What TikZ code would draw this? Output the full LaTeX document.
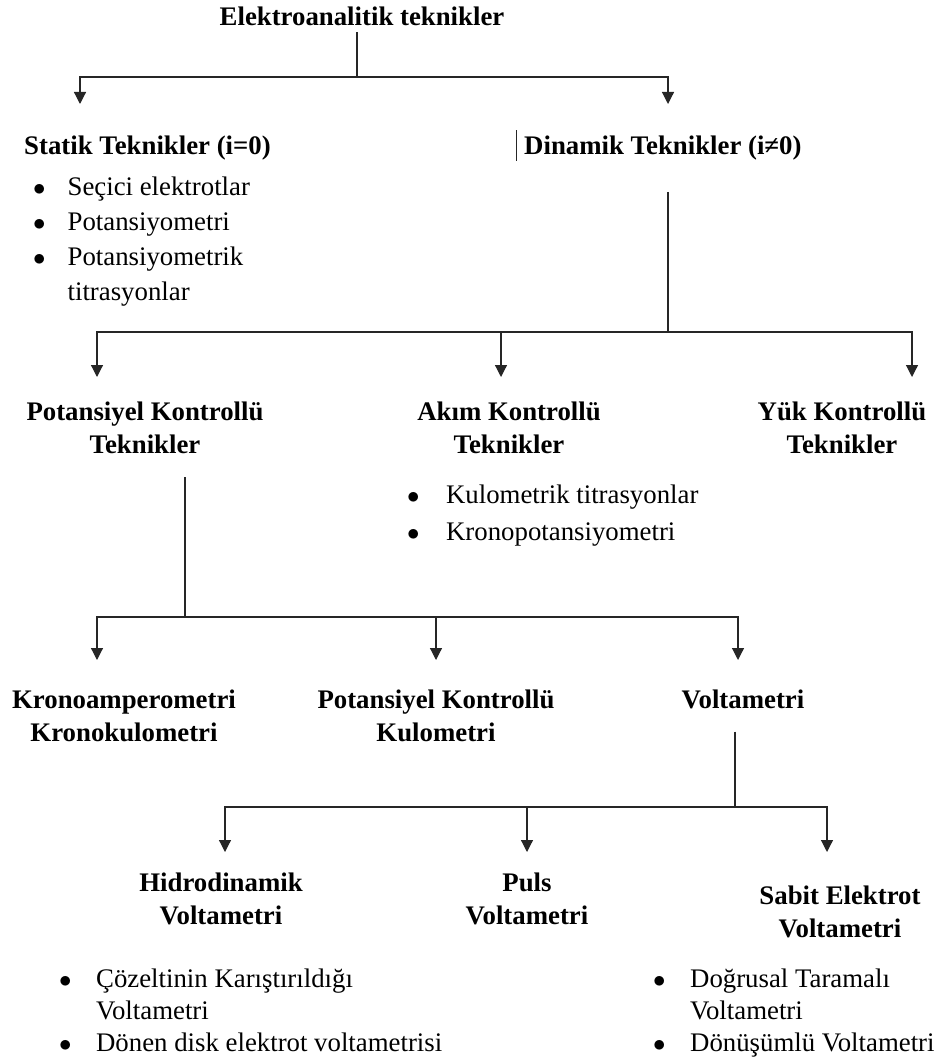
\documentclass[tikz,border=0pt]{standalone}
\usepackage{fontspec}
\setmainfont{Liberation Serif}
\usetikzlibrary{arrows.meta, positioning, calc}

\begin{document}
\begin{tikzpicture}[
  x=1pt, y=-1pt,
  head/.style={font=\fontsize{26.8}{33}\selectfont\bfseries, align=center,
               inner sep=0pt, anchor=base},
  blist/.style={font=\fontsize{26.8}{35}\selectfont, inner sep=0pt, anchor=base west},
  line/.style={line width=1.2pt, black!85},
  arr/.style={line, -{Triangle[width=12pt, length=12pt]}},
]
\useasboundingbox (0,0) rectangle (944,1059);

% Top level
\node[head] (title) at (362,26) {Elektroanalitik teknikler};
\node[head, anchor=base west] (statik) at (24,155) {Statik Teknikler (i=0)};
\node[head, anchor=base west] (dinamik) at (524,155) {Dinamik Teknikler (i≠0)};
\draw[line, line width=0.8pt] ([xshift=-8pt, yshift=6pt]dinamik.north west) -- ([xshift=-8pt]dinamik.south west);

\node[blist] (statiklist) at (33,196) {\begin{tabular}[t]{@{}l@{\hspace{22pt}}l@{}}
  $\bullet$ & Seçici elektrotlar\\
  $\bullet$ & Potansiyometri\\
  $\bullet$ & Potansiyometrik\\
            & titrasyonlar
\end{tabular}};

\coordinate (j0) at (357,77);
\coordinate (a0l) at (80,104);
\coordinate (a0r) at (668,104);
\draw[line] ([yshift=-6pt]title.south -| j0) -- (j0);
\draw[arr] (j0) -| (a0l);
\draw[arr] (j0) -| (a0r);

% Dinamik branch (base anchor = last line)
\node[head] (pot) at (145,453) {Potansiyel Kontrollü\\Teknikler};
\node[head] (akim) at (509,453) {Akım Kontrollü\\Teknikler};
\node[head] (yuk) at (842,453) {Yük Kontrollü\\Teknikler};

\node[blist, font=\fontsize{26.8}{37}\selectfont] (akimlist) at (407,503) {\begin{tabular}[t]{@{}l@{\hspace{26.5pt}}l@{}}
  $\bullet$ & Kulometrik titrasyonlar\\
  $\bullet$ & Kronopotansiyometri
\end{tabular}};

\coordinate (j1) at (668,332);
\coordinate (a1a) at (97,377);
\coordinate (a1b) at (501,377);
\coordinate (a1c) at (912,377);
\draw[line] ([yshift=-31pt]dinamik.south -| j1) -- (j1);
\draw[arr] (j1) -| (a1a);
\draw[arr] (j1) -| (a1b);
\draw[arr] (j1) -| (a1c);

% Potansiyel kontrollu branch
\node[head] (krono) at (124,741) {Kronoamperometri\\Kronokulometri};
\node[head] (pkk) at (436,741) {Potansiyel Kontrollü\\Kulometri};
\node[head] (volt) at (743,708) {Voltametri};

\coordinate (j2) at (185,617);
\coordinate (a2a) at (97,660);
\coordinate (a2b) at (436,660);
\coordinate (a2c) at (738,660);
\draw[line] ([yshift=-24pt]pot.south -| j2) -- (j2);
\draw[arr] (j2) -| (a2a);
\draw[arr] (j2) -| (a2b);
\draw[arr] (j2) -| (a2c);

% Voltametri branch
\node[head] (hidro) at (221,924) {Hidrodinamik\\Voltametri};
\node[head] (puls) at (527,924) {Puls\\Voltametri};
\node[head] (sabit) at (840,937) {Sabit Elektrot\\Voltametri};

\coordinate (j3) at (735,807);
\coordinate (a3a) at (225,852);
\coordinate (a3b) at (527,852);
\coordinate (a3c) at (827,852);
\draw[line] ([yshift=-23pt]volt.south -| j3) -- (j3);
\draw[arr] (j3) -| (a3a);
\draw[arr] (j3) -| (a3b);
\draw[arr] (j3) -| (a3c);

\node[blist, font=\fontsize{26.8}{32}\selectfont] (hidrolist) at (59,987) {\begin{tabular}[t]{@{}l@{\hspace{24.5pt}}l@{}}
  $\bullet$ & Çözeltinin Karıştırıldığı\\
            & Voltametri\\
  $\bullet$ & Dönen disk elektrot voltametrisi
\end{tabular}};
\node[blist, font=\fontsize{26.8}{32}\selectfont] (sabitlist) at (653,987) {\begin{tabular}[t]{@{}l@{\hspace{24.5pt}}l@{}}
  $\bullet$ & Doğrusal Taramalı\\
            & Voltametri\\
  $\bullet$ & Dönüşümlü Voltametri
\end{tabular}};

\end{tikzpicture}
\end{document}
